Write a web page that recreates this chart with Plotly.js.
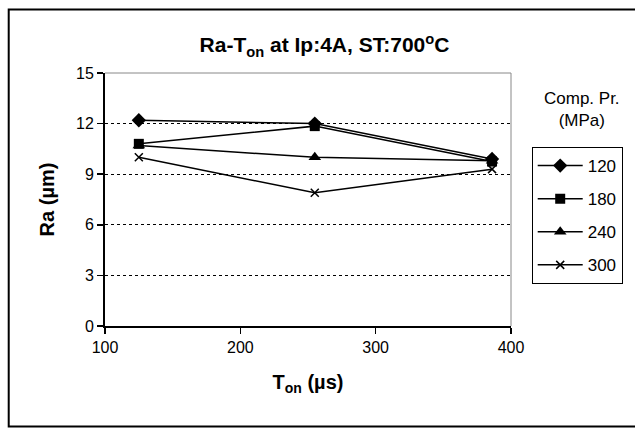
<!DOCTYPE html>
<html>
<head>
<meta charset="utf-8">
<script src="https://cdn.plot.ly/plotly-3.0.1.min.js"></script>
<style>html,body{margin:0;padding:0;background:#fff;}#chart{width:635px;height:429px;}</style>
</head>
<body>
<div id="chart"></div>
<script>
const ton = [125, 255, 386];
const seriesNames = ["120", "180", "240", "300"];
const ra120 = [12.2, 12.0, 9.9];
const ra180 = [10.8, 11.85, 9.75];
const ra240 = [10.7, 10.0, 9.8];
const ra300 = [10.0, 7.9, 9.3];
const yTicks = [0, 3, 6, 9, 12, 15];
const xTicks = [100, 200, 300, 400];

const symbols = ["diamond", "square", "triangle-up", "x-thin"];
const sizes = [11, 10, 11, 8];
const values = [ra120, ra180, ra240, ra300];

const traces = values.map((v, i) => ({
  x: ton, y: v, name: seriesNames[i], type: "scatter", mode: "lines+markers",
  legendgroup: "g" + i,
  line: {color: "#000", width: 1.5},
  marker: {symbol: symbols[i], size: sizes[i], color: "#000", line: {color: "#000", width: i === 3 ? 1.5 : 0}}
}));

const font = "Liberation Sans, Arial, sans-serif";
const layout = {
  width: 635, height: 429,
  margin: {l: 105, r: 121, t: 73, b: 103},
  paper_bgcolor: "#fff", plot_bgcolor: "#fff",
  font: {family: font, size: 16, color: "#000"},
  title: {text: "<b>Ra-T<sub>on</sub> at Ip:4A, ST:700<sup>o</sup>C</b>", x: 0.511, xanchor: "center", y: 0.895, yanchor: "middle", yref: "container", font: {family: font, size: 21, color: "#000"}},
  xaxis: {
    range: [100, 400], tickvals: xTicks, ticktext: xTicks.map(String),
    showgrid: false, zeroline: false, showline: true, linecolor: "#000", linewidth: 2,
    ticks: "outside", ticklen: 6, tickcolor: "#000", tickwidth: 1.5,
    tickfont: {size: 16},
    title: {text: "<b>T<sub>on</sub> (µs)</b>", font: {size: 20}, standoff: 20}
  },
  yaxis: {
    range: [0, 15], tickvals: yTicks, ticktext: yTicks.map(String),
    showgrid: true, gridcolor: "#000", griddash: "dot", gridwidth: 1,
    zeroline: false, showline: true, linecolor: "#000", linewidth: 2,
    ticks: "outside", ticklen: 6, tickcolor: "#000", tickwidth: 1.5,
    tickfont: {size: 16},
    title: {text: "<b>Ra (µm)</b>", font: {size: 20}, standoff: 16}
  },
  showlegend: true,
  legend: {
    x: 1.051, xanchor: "left", y: 0.7075, yanchor: "top",
    bordercolor: "#000", borderwidth: 1, bgcolor: "#fff",
    font: {size: 17}, tracegroupgap: 8, itemwidth: 45
  },
  annotations: [
    {text: "Comp. Pr.<br>(MPa)", xref: "paper", yref: "paper", x: 1.176, y: 0.854, xanchor: "center", yanchor: "middle", showarrow: false, font: {size: 17}}
  ],
  shapes: [
    {type: "line", xref: "paper", yref: "paper", x0: 1, x1: 1, y0: 0, y1: 1, line: {color: "#888", width: 1}},
    {type: "line", xref: "paper", yref: "paper", x0: 0, x1: 1, y0: 1, y1: 1, line: {color: "#888", width: 1}},
    {type: "rect", xref: "paper", yref: "paper", x0: (8 - 105) / 409, x1: (640 - 105) / 409, y0: (326 - 426.5) / 253, y1: (326 - 9.5) / 253, line: {color: "#000", width: 2}}
  ]
};

Plotly.newPlot("chart", traces, layout, {displayModeBar: false, staticPlot: true});
</script>
</body>
</html>
